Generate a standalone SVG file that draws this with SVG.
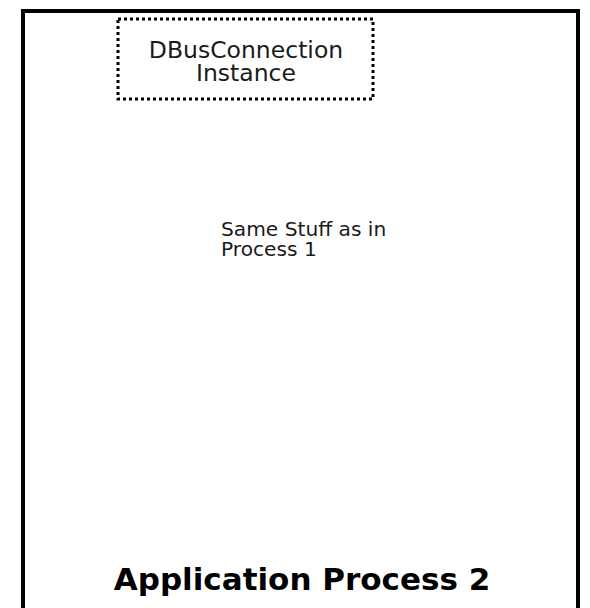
<svg xmlns="http://www.w3.org/2000/svg" width="590" height="608" viewBox="0 0 590 608">
  <style>
    .frame { fill: #ffffff; stroke: #000000; stroke-width: 4; }
    .dotted { fill: none; stroke: #000000; stroke-width: 3; stroke-dasharray: 3 3; }
    .label { font-family: "DejaVu Sans", sans-serif; fill: #1a1a1a; }
    .title { font-family: "DejaVu Sans", sans-serif; font-weight: bold; fill: #000000; }
  </style>
  <rect x="0" y="0" width="590" height="608" fill="#ffffff"/>
  <g id="process2">
    <rect class="frame" x="23" y="11" width="555" height="620"/>
    <text class="title" x="302" y="590" font-size="31" text-anchor="middle">Application Process 2</text>
  </g>
  <g id="dbus-connection">
    <rect class="dotted" x="118" y="19" width="255" height="80"/>
    <text class="label" x="246" y="58" font-size="23.5" text-anchor="middle">DBusConnection</text>
    <text class="label" x="246" y="81" font-size="23.5" text-anchor="middle">Instance</text>
  </g>
  <g id="same-stuff">
    <text class="label" x="221" y="236" font-size="20.2">Same Stuff as in</text>
    <text class="label" x="221" y="256" font-size="20.2">Process 1</text>
  </g>
  <g id="connectors"/>
</svg>
